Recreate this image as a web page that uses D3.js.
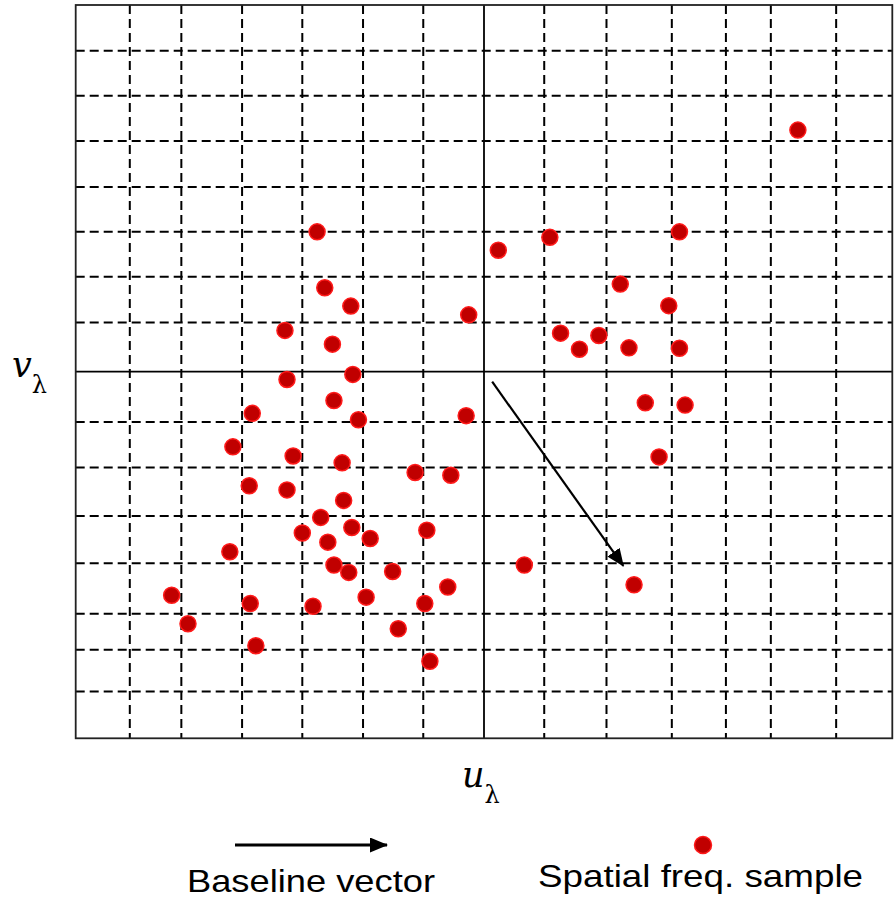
<!DOCTYPE html>
<html>
<head>
<meta charset="utf-8">
<script src="https://cdn.jsdelivr.net/npm/d3@7"></script>
<style>
  body { margin: 0; background: #fff; }
  svg { display: block; }
</style>
</head>
<body>
<div id="chart"></div>
<script>
// grid line positions (data units, u and v both span -8..8)
const uGrid = [-6.94, -5.93, -4.74, -3.56, -2.37, -1.19, 1.18, 2.40, 3.68, 4.74, 5.62, 6.90];
const vGrid = [7.00, 6.02, 5.03, 4.03, 3.05, 2.07, 1.07, -1.10, -2.09, -3.15, -4.18, -5.28, -6.07, -6.98];

// spatial frequency samples
const sampleU = [-3.27, -3.12, -2.61, -0.30, -3.90, -2.97, 6.15, 1.29, 3.83, 0.28,
                 2.67, 3.62, 1.50, 2.25, 1.87, 2.84, 3.83, -3.86, -2.57, -2.94,
                 -4.54, -2.46, -0.35, -4.92, -3.74, -2.78, -1.35, -0.65, -4.60, -3.86,
                 -2.75, -3.20, -3.56, -2.59, -3.06, -2.23, -1.12, -4.98, -2.94, -2.65,
                 -1.79, -6.12, -4.58, -3.35, -2.31, -1.16, -0.71, -5.80, -1.68, -4.47,
                 -1.06, 3.16, 3.94, 3.43, 0.79, 2.94];
const sampleV = [3.05, 1.83, 1.43, 1.24, 0.90, 0.60, 5.27, 2.93, 3.05, 2.65,
                 1.91, 1.44, 0.84, 0.79, 0.49, 0.52, 0.51, -0.17, -0.06, -0.63,
                 -0.91, -1.05, -0.96, -1.64, -1.84, -1.99, -2.20, -2.26, -2.49, -2.58,
                 -2.81, -3.18, -3.52, -3.40, -3.72, -3.64, -3.46, -3.93, -4.22, -4.38,
                 -4.36, -4.88, -5.06, -5.12, -4.92, -5.06, -4.70, -5.50, -5.61, -5.98,
                 -6.32, -0.68, -0.73, -1.86, -4.22, -4.65];

// baseline vector: [u0, v0, u1, v1]
const baseline = [0.16, -0.22, 2.73, -4.24];

const legendLabels = ["Baseline vector", "Spatial freq. sample"];

const width = 895, height = 898;
const svg = d3.select("#chart").append("svg")
    .attr("width", width)
    .attr("height", height);

const x = d3.scaleLinear().domain([-8, 8]).range([75.7, 892.3]);
const y = d3.scaleLinear().domain([-8, 8]).range([738.3, 5]);

const defs = svg.append("defs");
defs.append("marker")
    .attr("id", "head")
    .attr("viewBox", "0 0 18 15")
    .attr("refX", 17).attr("refY", 7.5)
    .attr("markerWidth", 18).attr("markerHeight", 15)
    .attr("markerUnits", "userSpaceOnUse")
    .attr("orient", "auto")
    .append("path")
    .attr("d", "M0,0 L18,7.5 L0,15 Z")
    .attr("fill", "#000");

const plot = svg.append("g");

// dashed grid
plot.selectAll(".vgrid")
    .data(uGrid)
    .enter().append("line")
    .attr("x1", d => x(d)).attr("x2", d => x(d))
    .attr("y1", y(8)).attr("y2", y(-8))
    .attr("stroke", "#000")
    .attr("stroke-width", 2)
    .attr("stroke-dasharray", "9,5");

plot.selectAll(".hgrid")
    .data(vGrid)
    .enter().append("line")
    .attr("x1", x(-8)).attr("x2", x(8))
    .attr("y1", d => y(d)).attr("y2", d => y(d))
    .attr("stroke", "#000")
    .attr("stroke-width", 2)
    .attr("stroke-dasharray", "9,5");

// axes through origin
plot.append("line")
    .attr("x1", x(0)).attr("x2", x(0))
    .attr("y1", y(8)).attr("y2", y(-8))
    .attr("stroke", "#000").attr("stroke-width", 1.8);
plot.append("line")
    .attr("x1", x(-8)).attr("x2", x(8))
    .attr("y1", y(0)).attr("y2", y(0))
    .attr("stroke", "#000").attr("stroke-width", 1.8);

// frame
plot.append("rect")
    .attr("x", x(-8)).attr("y", y(8))
    .attr("width", x(8) - x(-8))
    .attr("height", y(-8) - y(8))
    .attr("fill", "none")
    .attr("stroke", "#222")
    .attr("stroke-width", 1.8);

// samples
plot.selectAll(".sample")
    .data(d3.range(sampleU.length))
    .enter().append("circle")
    .attr("cx", i => x(sampleU[i]))
    .attr("cy", i => y(sampleV[i]))
    .attr("r", 8)
    .attr("fill", "#c00000")
    .attr("stroke", "#ff1a1a")
    .attr("stroke-width", 1.5);

// baseline arrow
plot.append("line")
    .attr("x1", x(baseline[0])).attr("y1", y(baseline[1]))
    .attr("x2", x(baseline[2])).attr("y2", y(baseline[3]))
    .attr("stroke", "#000")
    .attr("stroke-width", 2.2)
    .attr("marker-end", "url(#head)");

// axis labels
const uLab = svg.append("text")
    .attr("x", 462).attr("y", 787)
    .attr("font-family", "DejaVu Serif")
    .attr("font-style", "italic")
    .attr("font-size", 35);
uLab.append("tspan").text("u");
uLab.append("tspan").attr("dy", 16).attr("font-size", 24)
    .attr("font-style", "normal").text("λ");

const vLab = svg.append("text")
    .attr("x", 12).attr("y", 377)
    .attr("font-family", "DejaVu Serif")
    .attr("font-style", "italic")
    .attr("font-size", 35);
vLab.append("tspan").text("v");
vLab.append("tspan").attr("dy", 16).attr("font-size", 24)
    .attr("font-style", "normal").text("λ");

// legend
svg.append("line")
    .attr("x1", 235).attr("x2", 387)
    .attr("y1", 845).attr("y2", 845)
    .attr("stroke", "#000")
    .attr("stroke-width", 2.8)
    .attr("marker-end", "url(#head)");

svg.append("circle")
    .attr("cx", 703).attr("cy", 845)
    .attr("r", 8.5)
    .attr("fill", "#c00000")
    .attr("stroke", "#ff1a1a")
    .attr("stroke-width", 1.5);

svg.append("text")
    .attr("x", 187).attr("y", 892)
    .attr("font-family", "Liberation Sans, Arial, sans-serif")
    .attr("font-size", 32)
    .attr("textLength", 248)
    .attr("lengthAdjust", "spacingAndGlyphs")
    .text(legendLabels[0]);

svg.append("text")
    .attr("x", 538).attr("y", 887)
    .attr("font-family", "Liberation Sans, Arial, sans-serif")
    .attr("font-size", 32)
    .attr("textLength", 325)
    .attr("lengthAdjust", "spacingAndGlyphs")
    .text(legendLabels[1]);
</script>
</body>
</html>
